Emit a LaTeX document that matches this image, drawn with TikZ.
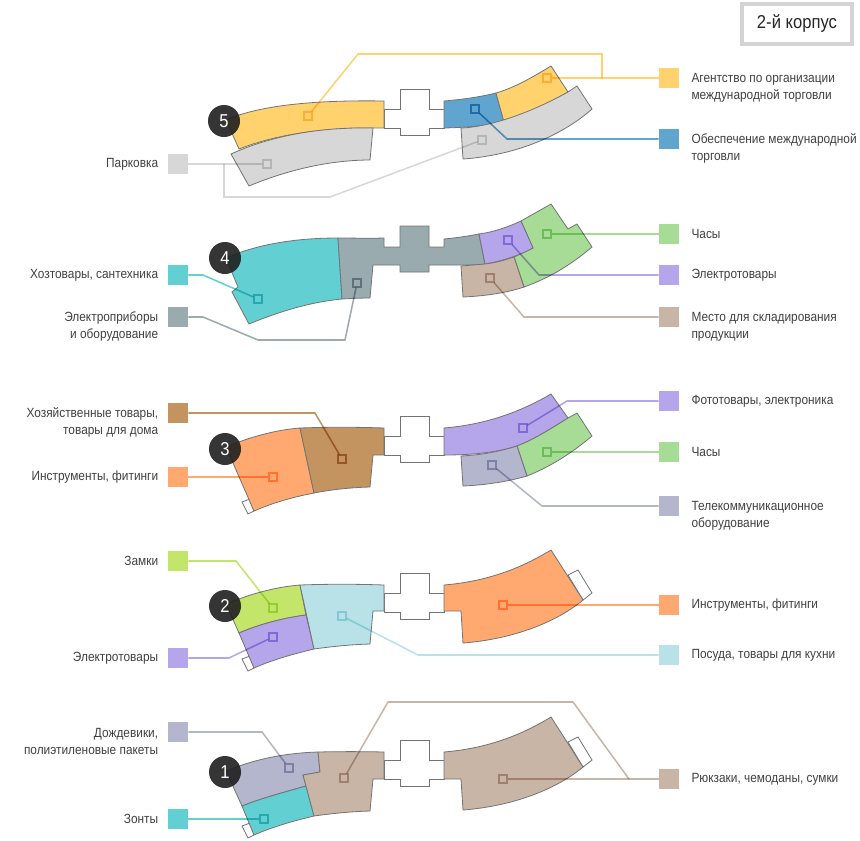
\documentclass[tikz,border=0pt]{standalone}
\usepackage{fontspec}
\setmainfont[FakeStretch=0.89]{Liberation Sans}
\usetikzlibrary{positioning}
\definecolor{cyellow}{HTML}{FFD26E}
\definecolor{cblue}{HTML}{5FA5CF}
\definecolor{cgray}{HTML}{D7D7D7}
\definecolor{cteal}{HTML}{62CFD3}
\definecolor{cslate}{HTML}{9AABB0}
\definecolor{cpurple}{HTML}{B5A5EA}
\definecolor{cgreen}{HTML}{A6DC96}
\definecolor{ctan}{HTML}{C9B5A6}
\definecolor{cbrown}{HTML}{C49460}
\definecolor{corange}{HTML}{FFA970}
\definecolor{clime}{HTML}{C3E56A}
\definecolor{csky}{HTML}{B8E2E8}
\definecolor{clilac}{HTML}{B3B6CC}
\newcommand{\crossway}{(384,109) -- (400,109) -- (400,89) -- (429,89) -- (429,109) -- (444,109) -- (444,128) -- (429,128) -- (429,135) -- (400,135) -- (400,128) -- (384,128) -- cycle}
\tikzset{
    floor/.style={draw=black!55,line width=0.6pt,fill=#1},
    swatch/.style={rectangle,fill=#1,minimum size=15pt,inner sep=0pt},
    mk/.style={rectangle,draw=#1,line width=1.4pt,minimum size=5.5pt,inner sep=0pt},
    lead/.style={draw=#1,line width=1.15pt},
    rtext/.style={align=left,inner sep=0pt,font=\fontsize{10}{12.6}\selectfont,text=black!75},
    ltext/.style={align=right,inner sep=0pt,font=\fontsize{10}{12.6}\selectfont,text=black!75},
    twoline/.style={yshift=-7.2pt},
    badge/.style={circle,fill=black!88,opacity=0.9,text=white,text opacity=1,minimum size=24pt,inner sep=0pt,font=\fontsize{14}{14}\selectfont}
}
\begin{document}
\begin{tikzpicture}[x=0.75pt,y=-0.75pt]
\useasboundingbox (0,0) rectangle (860,840);
% floor 5
\draw[floor=white] \crossway;
\draw[floor=cyellow] (226,120) .. controls (262,104) and (322,100) .. (384,101) -- (384,128) .. controls (330,127) and (280,133) .. (239,149) -- cycle;
\draw[floor=cgray] (231,154) .. controls (275,134) and (325,127) .. (373,128) -- (370,160) .. controls (330,160) and (287,170) .. (249,186) -- cycle;
\draw[floor=cblue] (444,101) .. controls (462,99.5) and (480,97) .. (496,93) -- (504,122) .. controls (485,126) and (465,127.5) .. (444,128) -- cycle;
\draw[floor=cyellow] (496,93) .. controls (515,87.5) and (533,77) .. (551,66) -- (568,92) .. controls (548,104) and (526,115) .. (504,122) -- cycle;
\draw[floor=cgray] (461,128) .. controls (490,127) and (530,113) .. (568,92) -- (577,86) -- (592,109) .. controls (565,133) and (520,155) .. (463,159) -- cycle;
% floor 4
\begin{scope}[shift={(0,138)}]
\draw[floor=cteal] (226,120) .. controls (260,105) and (300,100) .. (338,100) -- (342,161) .. controls (310,164) and (278,174) .. (249,186) -- (232,154) -- (238,149) -- cycle;
\draw[floor=cslate] (338,100) .. controls (353,100) and (369,100.5) .. (384,100) -- (384,109) -- (400,109) -- (400,88) -- (429,88) -- (429,109) -- (444,109) -- (444,101) .. controls (456,100) and (468,98) .. (479,96) -- (485,126) .. controls (477,127) and (469,127) .. (461,127) -- (429,127) -- (429,134) -- (400,134) -- (400,127) -- (373,127) -- (370,160) .. controls (360,160) and (351,160.5) .. (342,161) -- cycle;
\draw[floor=cgreen] (521,83) -- (551,66) -- (568,91) -- (577,86) -- (592,109) .. controls (573,125) and (552,139) .. (524,149) -- (514,119) -- (533,110) -- cycle;
\draw[floor=cpurple] (479,96) .. controls (494,94) and (508,89) .. (521,83) -- (533,110) .. controls (518,118) and (502,123) .. (485,126) -- cycle;
\draw[floor=ctan] (461,128) -- (485,126) .. controls (495,125) and (505,122) .. (514,119) -- (524,149) .. controls (506,155) and (485,158) .. (463,159) -- cycle;
\end{scope}
% floor 3
\begin{scope}[shift={(0,327)}]
\draw[floor=white] \crossway;
\draw[floor=white] (242,175) -- (250,172) -- (254,184) -- (248,187) -- cycle;
\draw[floor=corange] (226,120) .. controls (250,110) and (275,103) .. (300,101) -- (314,166) .. controls (293,170) and (272,176) .. (254,184) -- cycle;
\draw[floor=cbrown] (300,101) .. controls (328,100) and (356,100) .. (384,101) -- (384,128) -- (373,128) -- (370,160) .. controls (351,160.5) and (332,162.5) .. (314,166) -- cycle;
\draw[floor=cpurple] (444,101) .. controls (480,98) and (515,88) .. (551,67) -- (568,91) .. controls (552,101) and (535,112) .. (517,119) .. controls (495,126) and (470,128) .. (444,128) -- cycle;
\draw[floor=cgreen] (517,119) .. controls (535,112) and (552,101) .. (568,91) -- (577,86) -- (592,109) .. controls (573,125) and (552,139) .. (527,149) -- cycle;
\draw[floor=clilac] (461,129) .. controls (480,128) and (498,125) .. (517,119) -- (527,149) .. controls (506,155) and (485,158) .. (463,159) -- cycle;
\end{scope}
% floor 2
\begin{scope}[shift={(0,484)}]
\draw[floor=white] \crossway;
\draw[floor=white] (242,175) -- (250,172) -- (254,184) -- (248,187) -- cycle;
\draw[floor=white] (568,91) -- (578,86) -- (592,109) -- (583,116) -- cycle;
\draw[floor=clime] (226,120) .. controls (250,110) and (275,103) .. (300,101) -- (306,131) .. controls (283,134) and (260,140) .. (239,149) -- cycle;
\draw[floor=cpurple] (239,149) .. controls (260,140) and (283,134) .. (306,131) -- (314,165) .. controls (293,170) and (272,176) .. (254,184) -- cycle;
\draw[floor=csky] (300,101) .. controls (328,100) and (356,100) .. (384,101) -- (384,127) -- (373,127) -- (370,160) .. controls (351,160.5) and (332,162.5) .. (314,165) -- cycle;
\draw[floor=corange] (444,101) .. controls (480,98) and (515,88) .. (551,66) -- (583,116) .. controls (558,137) and (515,155) .. (463,159) -- (461,127) -- (444,127) -- cycle;
\end{scope}
% floor 1
\begin{scope}[shift={(0,651)}]
\draw[floor=white] \crossway;
\draw[floor=white] (242,175) -- (250,172) -- (254,184) -- (248,187) -- cycle;
\draw[floor=white] (568,91) -- (578,86) -- (592,109) -- (583,116) -- cycle;
\draw[floor=clilac] (226,120) .. controls (255,108) and (285,102) .. (318,101) -- (320,121) -- (303,124) -- (306,135) .. controls (285,141) and (262,147) .. (242,155) -- cycle;
\draw[floor=cteal] (242,155) .. controls (262,147) and (285,141) .. (306,135) -- (314,165) .. controls (293,170) and (272,176) .. (254,184) -- cycle;
\draw[floor=ctan] (318,101) .. controls (340,100.5) and (362,100.5) .. (384,101) -- (384,128) -- (373,128) -- (370,160) .. controls (351,160.5) and (332,162.5) .. (314,165) -- (306,135) -- (303,124) -- (320,121) -- cycle;
\draw[floor=ctan] (444,101) .. controls (480,98) and (515,88) .. (551,66) -- (583,116) .. controls (558,137) and (515,155) .. (463,159) -- (461,128) -- (444,128) -- cycle;
\end{scope}
% swatches and their texts
\node[swatch=cyellow] (swTrade) at (669,78) {};
\node[rtext,twoline,right=9pt of swTrade] (txTrade) {Агентство по организации\\международной торговли};
\node[swatch=cblue] (swSupport) at (669,139) {};
\node[rtext,twoline,right=9pt of swSupport] (txSupport) {Обеспечение международной\\торговли};
\node[swatch=cgray] (swParking) at (178,164) {};
\node[ltext,left=7pt of swParking] (txParking) {Парковка};
\node[swatch=cgreen] (swClock) at (669,234) {};
\node[rtext,right=9pt of swClock] (txClock) {Часы};
\node[swatch=cpurple] (swElectro) at (669,275) {};
\node[rtext,right=9pt of swElectro] (txElectro) {Электротовары};
\node[swatch=ctan] (swStore) at (669,317) {};
\node[rtext,twoline,right=9pt of swStore] (txStore) {Место для складирования\\продукции};
\node[swatch=cteal] (swHouse) at (178,275) {};
\node[ltext,left=7pt of swHouse] (txHouse) {Хозтовары, сантехника};
\node[swatch=cslate] (swDevice) at (178,317) {};
\node[ltext,twoline,left=7pt of swDevice] (txDevice) {Электроприборы\\и оборудование};
\node[swatch=cbrown] (swHome) at (178,413) {};
\node[ltext,twoline,left=7pt of swHome] (txHome) {Хозяйственные товары,\\товары для дома};
\node[swatch=corange] (swTool) at (178,477) {};
\node[ltext,left=7pt of swTool] (txTool) {Инструменты, фитинги};
\node[swatch=cpurple] (swPhoto) at (669,401) {};
\node[rtext,right=9pt of swPhoto] (txPhoto) {Фототовары, электроника};
\node[swatch=cgreen] (swClockB) at (669,452) {};
\node[rtext,right=9pt of swClockB] (txClockB) {Часы};
\node[swatch=clilac] (swTele) at (669,506) {};
\node[rtext,twoline,right=9pt of swTele] (txTele) {Телекоммуникационное\\оборудование};
\node[swatch=clime] (swLock) at (178,561) {};
\node[ltext,left=7pt of swLock] (txLock) {Замки};
\node[swatch=cpurple] (swElectroB) at (178,658) {};
\node[ltext,left=7pt of swElectroB] (txElectroB) {Электротовары};
\node[swatch=corange] (swToolB) at (669,605) {};
\node[rtext,right=9pt of swToolB] (txToolB) {Инструменты, фитинги};
\node[swatch=csky] (swDish) at (669,655) {};
\node[rtext,right=9pt of swDish] (txDish) {Посуда, товары для кухни};
\node[swatch=clilac] (swRain) at (178,732) {};
\node[ltext,twoline,left=7pt of swRain] (txRain) {Дождевики,\\полиэтиленовые пакеты};
\node[swatch=cteal] (swUmbrella) at (178,819) {};
\node[ltext,left=7pt of swUmbrella] (txUmbrella) {Зонты};
\node[swatch=ctan] (swBag) at (669,779) {};
\node[rtext,right=9pt of swBag] (txBag) {Рюкзаки, чемоданы, сумки};
% leaders
\begin{scope}[blend mode=multiply]
\node[mk=cyellow] (mTradeA) at (308,116) {};
\node[mk=cyellow] (mTradeB) at (547,78) {};
\node[mk=cblue] (mSupport) at (475,109) {};
\node[mk=cgray] (mParkA) at (267,164) {};
\node[mk=cgray] (mParkB) at (482,140) {};
\node[mk=cteal] (mHouse) at (258,299) {};
\node[mk=cslate] (mDevice) at (357,283) {};
\node[mk=cgreen] (mClock) at (547,234) {};
\node[mk=cpurple] (mElectro) at (508,240) {};
\node[mk=ctan] (mStore) at (490,278) {};
\node[mk=cbrown] (mHome) at (342,459) {};
\node[mk=corange] (mTool) at (273,477) {};
\node[mk=cpurple] (mPhoto) at (523,428) {};
\node[mk=cgreen] (mClockB) at (547,452) {};
\node[mk=clilac] (mTele) at (492,465) {};
\node[mk=clime] (mLock) at (273,608) {};
\node[mk=cpurple] (mElectroB) at (273,637) {};
\node[mk=csky] (mDish) at (342,616) {};
\node[mk=corange] (mToolB) at (503,605) {};
\node[mk=clilac] (mRain) at (289,768) {};
\node[mk=ctan] (mBagA) at (344,778) {};
\node[mk=cteal] (mUmbrella) at (264,819) {};
\node[mk=ctan] (mBagB) at (503,779) {};
\draw[lead=cyellow] (mTradeB) -- (swTrade);
\draw[lead=cyellow] (mTradeA) -- (358,54) -- (602,54) -- (602,78);
\draw[lead=cblue] (mSupport) -- (507,139) -- (swSupport);
\draw[lead=cgray] (swParking) -- (mParkA);
\draw[lead=cgray] (224,164) -- (224,197) -- (330,197) -- (mParkB);
\draw[lead=cteal] (swHouse) -- (203,275) -- (mHouse);
\draw[lead=cslate] (swDevice) -- (203,317) -- (258,340) -- (345,340) -- (mDevice);
\draw[lead=cgreen] (mClock) -- (swClock);
\draw[lead=cpurple] (mElectro) -- (539,275) -- (swElectro);
\draw[lead=ctan] (mStore) -- (524,317) -- (swStore);
\draw[lead=cbrown] (swHome) -- (315,413) -- (mHome);
\draw[lead=corange] (swTool) -- (mTool);
\draw[lead=cpurple] (mPhoto) -- (567,401) -- (swPhoto);
\draw[lead=cgreen] (mClockB) -- (swClockB);
\draw[lead=clilac] (mTele) -- (542,506) -- (swTele);
\draw[lead=clime] (swLock) -- (236,561) -- (mLock);
\draw[lead=cpurple] (swElectroB) -- (229,658) -- (mElectroB);
\draw[lead=corange] (mToolB) -- (swToolB);
\draw[lead=csky] (mDish) -- (418,655) -- (swDish);
\draw[lead=clilac] (swRain) -- (262,732) -- (mRain);
\draw[lead=cteal] (swUmbrella) -- (mUmbrella);
\draw[lead=ctan] (mBagB) -- (swBag);
\draw[lead=ctan] (mBagA) -- (388,702) -- (573,702) -- (629,779);
\end{scope}
% floor numbers
\node[badge] (n5) at (224,121) {5};
\node[badge] (n4) at (225,258) {4};
\node[badge] (n3) at (225,449) {3};
\node[badge] (n2) at (225,606) {2};
\node[badge] (n1) at (225,772) {1};
% building tag
\node[draw=black!17,line width=3pt,minimum width=83pt,minimum height=30pt,inner sep=0pt,font=\fontsize{14}{14}\selectfont,text=black!85] (tag) at (797,24) {2-й корпус};
\end{tikzpicture}
\end{document}
